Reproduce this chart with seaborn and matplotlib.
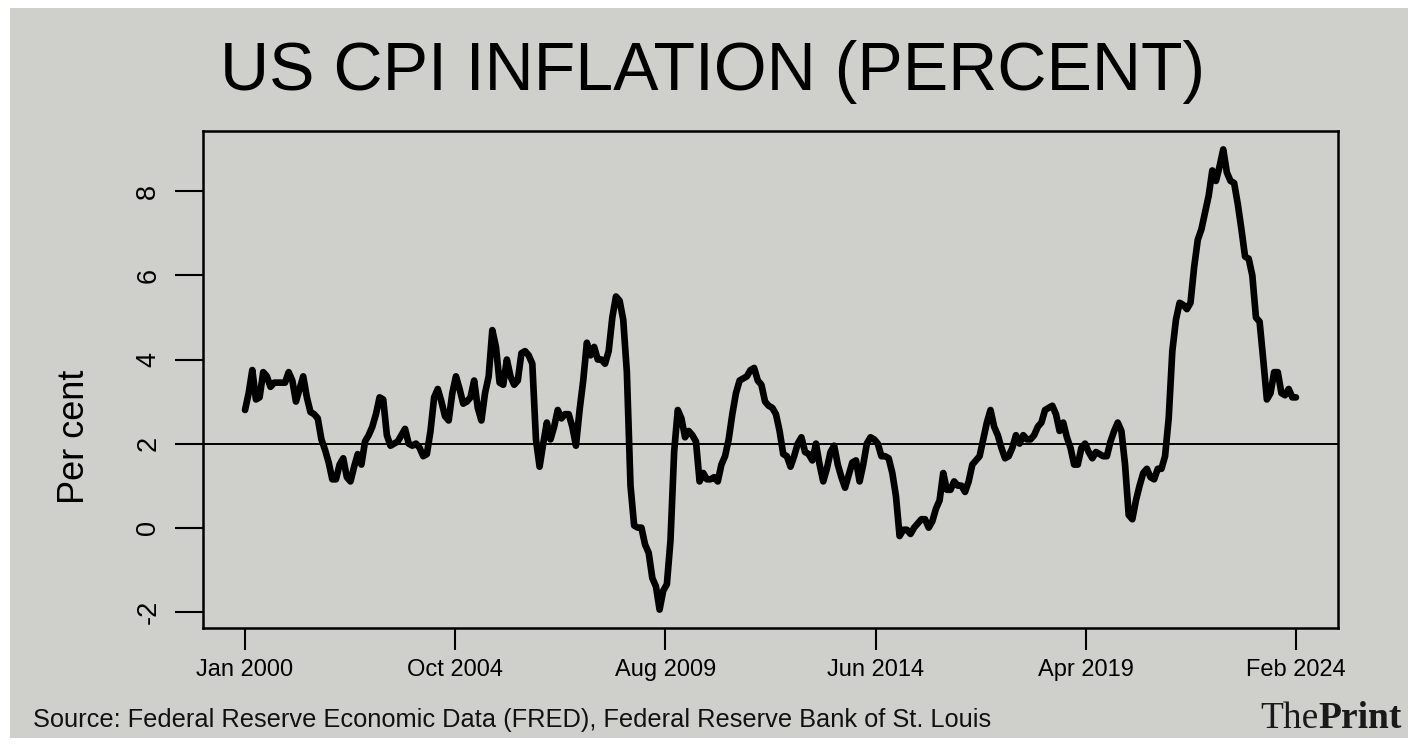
import numpy as np
import pandas as pd
import matplotlib
matplotlib.use("Agg")
import matplotlib.pyplot as plt
import seaborn as sns
from matplotlib.patches import Rectangle

# Year-over-year CPI inflation, monthly, Jan 2000 - Feb 2024 (percent)
cpi_2000 = [2.8, 3.2, 3.75, 3.05, 3.1, 3.7, 3.6, 3.35, 3.45, 3.45, 3.45, 3.45]
cpi_2001 = [3.7, 3.5, 3.0, 3.3, 3.6, 3.1, 2.75, 2.7, 2.6, 2.1, 1.85, 1.55]
cpi_2002 = [1.15, 1.15, 1.5, 1.65, 1.2, 1.1, 1.45, 1.75, 1.5, 2.05, 2.2, 2.4]
cpi_2003 = [2.7, 3.1, 3.05, 2.2, 1.95, 2.0, 2.05, 2.2, 2.35, 2.0, 1.95, 2.0]
cpi_2004 = [1.9, 1.7, 1.75, 2.3, 3.1, 3.3, 3.0, 2.65, 2.55, 3.2, 3.6, 3.3]
cpi_2005 = [2.95, 3.0, 3.1, 3.5, 2.85, 2.55, 3.2, 3.6, 4.7, 4.3, 3.45, 3.4]
cpi_2006 = [4.0, 3.6, 3.4, 3.5, 4.15, 4.2, 4.1, 3.9, 2.1, 1.45, 2.0, 2.5]
cpi_2007 = [2.1, 2.4, 2.8, 2.6, 2.7, 2.7, 2.4, 1.95, 2.8, 3.5, 4.4, 4.1]
cpi_2008 = [4.3, 4.0, 4.0, 3.9, 4.2, 5.0, 5.5, 5.4, 4.95, 3.7, 1.0, 0.05]
cpi_2009 = [0.0, 0.0, -0.4, -0.6, -1.2, -1.4, -1.95, -1.5, -1.35, -0.3, 1.8, 2.8]
cpi_2010 = [2.6, 2.15, 2.3, 2.2, 2.05, 1.1, 1.3, 1.15, 1.15, 1.2, 1.1, 1.5]
cpi_2011 = [1.7, 2.1, 2.7, 3.2, 3.5, 3.55, 3.6, 3.75, 3.8, 3.5, 3.4, 3.0]
cpi_2012 = [2.9, 2.85, 2.7, 2.3, 1.75, 1.7, 1.45, 1.7, 2.0, 2.15, 1.8, 1.75]
cpi_2013 = [1.6, 2.0, 1.5, 1.1, 1.4, 1.8, 1.95, 1.5, 1.2, 0.95, 1.25, 1.55]
cpi_2014 = [1.6, 1.1, 1.5, 2.0, 2.15, 2.1, 2.0, 1.7, 1.7, 1.65, 1.3, 0.75]
cpi_2015 = [-0.2, -0.05, -0.05, -0.15, 0.0, 0.1, 0.2, 0.2, 0.0, 0.15, 0.45, 0.65]
cpi_2016 = [1.3, 0.9, 0.9, 1.1, 1.0, 1.0, 0.85, 1.1, 1.5, 1.6, 1.7, 2.1]
cpi_2017 = [2.5, 2.8, 2.4, 2.2, 1.9, 1.65, 1.7, 1.9, 2.2, 2.0, 2.2, 2.1]
cpi_2018 = [2.1, 2.2, 2.4, 2.5, 2.8, 2.85, 2.9, 2.7, 2.3, 2.5, 2.15, 1.9]
cpi_2019 = [1.5, 1.5, 1.9, 2.0, 1.8, 1.65, 1.8, 1.75, 1.7, 1.7, 2.05, 2.3]
cpi_2020 = [2.5, 2.3, 1.5, 0.3, 0.2, 0.65, 1.0, 1.3, 1.4, 1.2, 1.15, 1.4]
cpi_2021 = [1.4, 1.7, 2.6, 4.2, 4.95, 5.35, 5.3, 5.2, 5.35, 6.2, 6.85, 7.1]
cpi_2022 = [7.5, 7.9, 8.5, 8.25, 8.6, 9.0, 8.45, 8.25, 8.2, 7.7, 7.1, 6.45]
cpi_2023 = [6.4, 6.0, 5.0, 4.9, 4.0, 3.05, 3.2, 3.7, 3.7, 3.2, 3.15, 3.3]
cpi_2024 = [3.1, 3.1]

inflation = (cpi_2000 + cpi_2001 + cpi_2002 + cpi_2003 + cpi_2004 + cpi_2005
             + cpi_2006 + cpi_2007 + cpi_2008 + cpi_2009 + cpi_2010 + cpi_2011
             + cpi_2012 + cpi_2013 + cpi_2014 + cpi_2015 + cpi_2016 + cpi_2017
             + cpi_2018 + cpi_2019 + cpi_2020 + cpi_2021 + cpi_2022 + cpi_2023
             + cpi_2024)

x_tick_labels = ["Jan 2000", "Oct 2004", "Aug 2009", "Jun 2014", "Apr 2019", "Feb 2024"]
y_ticks = [-2, 0, 2, 4, 6, 8]
target_rate = 2

title = "US CPI INFLATION (PERCENT)"
y_label = "Per cent"
source = "Source: Federal Reserve Economic Data (FRED), Federal Reserve Bank of St. Louis"

GRAY = "#cfcfcb"
W, H = 1418, 746

sns.set_theme(style="white")
plt.rcParams["font.family"] = ["Liberation Sans", "DejaVu Sans"]

fig = plt.figure(figsize=(W / 100, H / 100), dpi=100, facecolor="white")
fig.patches.append(Rectangle((10 / W, 8 / H), 1398 / W, 730 / H,
                             transform=fig.transFigure, facecolor=GRAY,
                             edgecolor="none", zorder=-10))

ax = fig.add_axes([203 / W, 1 - 628 / H, (1338 - 203) / W, (628 - 131) / H])
ax.set_zorder(5)
ax.set_facecolor("none")

df = pd.DataFrame({"month": np.arange(len(inflation)), "cpi": inflation})
sns.lineplot(data=df, x="month", y="cpi", ax=ax, color="black", linewidth=4.8,
             solid_joinstyle="round", solid_capstyle="round", zorder=3)
ax.axhline(target_rate, color="black", linewidth=1.4, zorder=2)

# R-style 4% padding around the data range
n = len(inflation)
xpad = 0.04 * (n - 1)
ax.set_xlim(-xpad, n - 1 + xpad)
lo, hi = min(inflation), max(inflation)
ypad = 0.04 * (hi - lo)
ax.set_ylim(lo - ypad, hi + ypad)

ax.set_xticks(np.linspace(0, n - 1, len(x_tick_labels)))
ax.set_xticklabels(x_tick_labels, fontsize=17)
ax.set_yticks(y_ticks)
ax.set_yticklabels([str(v) for v in y_ticks], fontsize=19.5, rotation=90, va="center")
ax.tick_params(axis="x", bottom=True, direction="out", length=16, width=1.5,
               pad=6, colors="black")
ax.tick_params(axis="y", left=True, direction="out", length=20, width=1.5,
               pad=10, colors="black")
for spine in ax.spines.values():
    spine.set_visible(True)
    spine.set_color("black")
    spine.set_linewidth(1.8)
ax.set_xlabel("")
ax.set_ylabel("")

fig.text(713 / W, 1 - 72 / H, title, ha="center", va="center", fontsize=49,
         color="black")
fig.text(75 / W, 1 - 437 / H, y_label, rotation=90, ha="center", va="center",
         fontsize=26, color="black")
fig.text(33 / W, 1 - 720 / H, source, ha="left", va="center", fontsize=18.3,
         color="#111111")

# Masthead: regular "The" followed by bold "Print"
print_txt = fig.text(1402 / W, 1 - 728 / H, "Print", ha="right", va="baseline",
                     fontsize=27, fontweight="bold",
                     family=["Liberation Serif", "DejaVu Serif"], color="#1a1a1a")
fig.canvas.draw()
bb = print_txt.get_window_extent()
fig.text(bb.x0 / W, 1 - 728 / H, "The", ha="right", va="baseline", fontsize=27,
         family=["Liberation Serif", "DejaVu Serif"], color="#1a1a1a")

fig.savefig("out.png", dpi=100, facecolor="white")
